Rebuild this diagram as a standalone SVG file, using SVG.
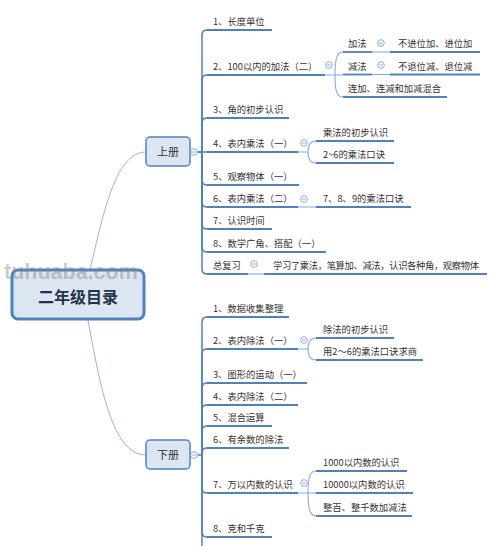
<svg xmlns="http://www.w3.org/2000/svg" xmlns:xlink="http://www.w3.org/1999/xlink" width="500" height="546" viewBox="0 0 500 546">
<style>
.t{font-family:"Noto Sans CJK SC","Noto Sans",sans-serif;font-size:9.3px;fill:#333}
.ul{stroke:#4f81bd;stroke-width:1.8;fill:none}
.br{stroke:#4f81bd;stroke-width:1.5;fill:none}
.sb{stroke:#8eaadb;stroke-width:1.1;fill:none}
.mc{stroke:#9db3d6;stroke-width:1;fill:none}
.box{fill:#dce6f2;stroke:#4f81bd;stroke-width:1.5}
.bt{font-family:"Noto Sans CJK SC","Noto Sans",sans-serif;font-size:11px;fill:#333;text-anchor:middle}
</style>
<defs>
<g id="col"><circle r="3.3" fill="#fff" stroke="#8eaadb" stroke-width="1"/><line x1="-1.8" y1="0" x2="1.8" y2="0" stroke="#8eaadb" stroke-width="1"/></g>
</defs>
<rect width="500" height="546" fill="#fff"/>
<g id="connectors">
<path class="mc" d="M90 270 C104 210 116 152 146 152"/>
<path class="mc" d="M88 320 C100 385 112 455 146 455"/>
<path class="br" d="M197.5 152 H202 V35 Q202 30 207 30"/>
<path class="br" d="M202 152 V80 Q202 75 207 75"/>
<path class="br" d="M202 152 V123 Q202 118 207 118"/>
<path class="br" d="M197.5 152 H207"/>
<path class="br" d="M202 152 V180 Q202 185 207 185"/>
<path class="br" d="M202 152 V202 Q202 207 207 207"/>
<path class="br" d="M202 152 V224 Q202 229 207 229"/>
<path class="br" d="M202 152 V247 Q202 252 207 252"/>
<path class="br" d="M202 152 V269 Q202 274 207 274"/>
<path class="br" d="M197.5 455 H202 V322 Q202 317 207 317"/>
<path class="br" d="M202 455 V354 Q202 349 207 349"/>
<path class="br" d="M202 455 V388 Q202 383 207 383"/>
<path class="br" d="M202 455 V410 Q202 405 207 405"/>
<path class="br" d="M202 455 V431 Q202 426 207 426"/>
<path class="br" d="M202 455 V453 Q202 448 207 448"/>
<path class="br" d="M202 455 V488 Q202 493 207 493"/>
<path class="br" d="M202 455 V532 Q202 537 207 537"/>
<path class="br" d="M202 455 V555 Q202 560 207 560"/>
<path class="sb" d="M325 75 H335 C335 58 337 52 343 52"/>
<path class="sb" d="M335 75 H343"/>
<path class="sb" d="M335 75 C335 92 337 97 343 97"/>
<path class="sb" d="M372 52 H390"/>
<path class="sb" d="M372 74.5 H390"/>
<path class="sb" d="M298 152 H308 C308 145 310 141 316 141"/>
<path class="sb" d="M308 152 C308 159 310 163 316 163"/>
<path class="sb" d="M298 207 H316"/>
<path class="sb" d="M248 274 H264"/>
<path class="sb" d="M298 349 H308 C308 342 310 338 316 338"/>
<path class="sb" d="M308 349 C308 356 310 360 316 360"/>
<path class="sb" d="M298 493 H308 C308 477 310 471 316 471"/>
<path class="sb" d="M308 493 H316"/>
<path class="sb" d="M308 493 C308 509 310 516 316 516"/>
</g>
<g id="root">
<rect x="12" y="270" width="132" height="49" rx="6" fill="#dce6f2" stroke="#4f81bd" stroke-width="3"/>
<text x="78" y="302.5" font-family="'Noto Sans CJK SC',sans-serif" font-size="16" font-weight="bold" fill="#263248" text-anchor="middle">二年级目录</text>
</g>
<g id="shangce">
<rect class="box" x="146" y="137" width="44" height="29" rx="4"/>
<text class="bt" x="168" y="156">上册</text>
<use xlink:href="#col" x="194" y="152"/>
</g>
<g id="xiace">
<rect class="box" x="146" y="440" width="44" height="29" rx="4"/>
<text class="bt" x="168" y="459">下册</text>
<use xlink:href="#col" x="194" y="455"/>
</g>
<g id="u1"><path class="ul" d="M207 30 H272"/><text class="t" x="213" y="25">1、长度单位</text></g>
<g id="u2"><path class="ul" d="M207 75 H325"/><text class="t" x="213" y="70">2、100以内的加法（二）</text><use xlink:href="#col" x="329" y="65"/></g>
<g id="u2a"><path class="ul" d="M343 52 H372"/><text class="t" x="348" y="47">加法</text><use xlink:href="#col" x="381" y="43"/></g>
<g id="u2a1"><path class="ul" d="M390 52 H480"/><text class="t" x="398" y="47">不进位加、进位加</text></g>
<g id="u2b"><path class="ul" d="M343 74.5 H372"/><text class="t" x="348" y="69.5">减法</text><use xlink:href="#col" x="381" y="65"/></g>
<g id="u2b1"><path class="ul" d="M390 74.5 H480"/><text class="t" x="398" y="69.5">不退位减、退位减</text></g>
<g id="u2c"><path class="ul" d="M343 97 H447"/><text class="t" x="348" y="92">连加、连减和加减混合</text></g>
<g id="u3"><path class="ul" d="M207 118 H289"/><text class="t" x="213" y="113">3、角的初步认识</text></g>
<g id="u4"><path class="ul" d="M207 152 H298"/><text class="t" x="213" y="147">4、表内乘法（一）</text><use xlink:href="#col" x="304" y="143"/></g>
<g id="u4a"><path class="ul" d="M316 141 H394"/><text class="t" x="323" y="136">乘法的初步认识</text></g>
<g id="u4b"><path class="ul" d="M316 163 H394"/><text class="t" x="323" y="158">2~6的乘法口诀</text></g>
<g id="u5"><path class="ul" d="M207 185 H299"/><text class="t" x="213" y="180">5、观察物体（一）</text></g>
<g id="u6"><path class="ul" d="M207 207 H298"/><text class="t" x="213" y="202">6、表内乘法（二）</text><use xlink:href="#col" x="304" y="199"/></g>
<g id="u6a"><path class="ul" d="M316 207 H411"/><text class="t" x="323" y="202">7、8、9的乘法口诀</text></g>
<g id="u7"><path class="ul" d="M207 229 H272"/><text class="t" x="213" y="224">7、认识时间</text></g>
<g id="u8"><path class="ul" d="M207 252 H326"/><text class="t" x="213" y="247">8、数学广角、搭配（一）</text></g>
<g id="u9"><path class="ul" d="M207 274 H248"/><text class="t" x="213" y="269">总复习</text><use xlink:href="#col" x="254" y="264"/></g>
<g id="u9a"><path class="ul" d="M264 274 H487"/><text class="t" x="273" y="269" textLength="206" lengthAdjust="spacing">学习了乘法，笔算加、减法，认识各种角，观察物体</text></g>
<g id="d1"><path class="ul" d="M207 317 H289"/><text class="t" x="213" y="312">1、数据收集整理</text></g>
<g id="d2"><path class="ul" d="M207 349 H298"/><text class="t" x="213" y="344">2、表内除法（一）</text><use xlink:href="#col" x="304" y="340"/></g>
<g id="d2a"><path class="ul" d="M316 338 H394"/><text class="t" x="323" y="333">除法的初步认识</text></g>
<g id="d2b"><path class="ul" d="M316 360 H423"/><text class="t" x="323" y="355">用2～6的乘法口诀求商</text></g>
<g id="d3"><path class="ul" d="M207 383 H307"/><text class="t" x="213" y="378">3、图形的运动（一）</text></g>
<g id="d4"><path class="ul" d="M207 405 H298"/><text class="t" x="213" y="400">4、表内除法（二）</text></g>
<g id="d5"><path class="ul" d="M207 426 H272"/><text class="t" x="213" y="421">5、混合运算</text></g>
<g id="d6"><path class="ul" d="M207 448 H289"/><text class="t" x="213" y="443">6、有余数的除法</text></g>
<g id="d7"><path class="ul" d="M207 493 H298"/><text class="t" x="213" y="488">7、万以内数的认识</text><use xlink:href="#col" x="304" y="483"/></g>
<g id="d7a"><path class="ul" d="M316 471 H407"/><text class="t" x="323" y="466">1000以内数的认识</text></g>
<g id="d7b"><path class="ul" d="M316 493 H413"/><text class="t" x="323" y="488">10000以内数的认识</text></g>
<g id="d7c"><path class="ul" d="M316 516 H412"/><text class="t" x="323" y="511">整百、整千数加减法</text></g>
<g id="d8"><path class="ul" d="M207 537 H272"/><text class="t" x="213" y="532">8、克和千克</text></g>
<text x="4" y="279" font-family="'Liberation Sans',Arial,sans-serif" font-size="21.5" font-weight="bold" fill="#888" fill-opacity="0.45">tuhuaba.com</text>
</svg>
